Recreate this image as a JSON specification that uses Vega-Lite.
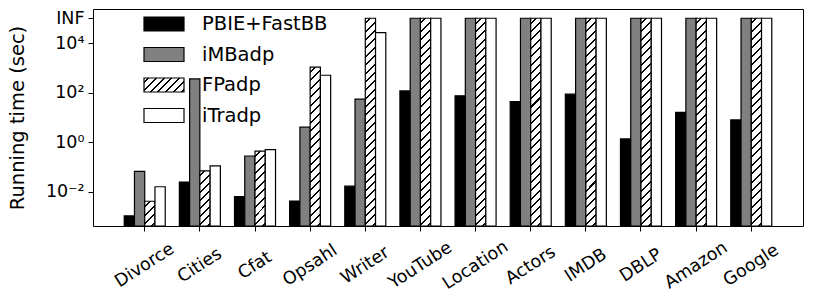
{
  "$schema": "https://vega.github.io/schema/vega-lite/v6.json",
  "autosize": {"type": "none"},
  "padding": {"left": 93, "top": 9, "right": 11, "bottom": 73},
  "width": 710,
  "height": 217,
  "background": "white",
  "config": {
    "view": {"stroke": "black", "strokeWidth": 1},
    "axis": {"labelFont": "DejaVu Sans", "titleFont": "DejaVu Sans", "labelColor": "black", "titleColor": "black", "tickColor": "black", "domain": false, "grid": false},
    "legend": {"labelFont": "DejaVu Sans"}
  },
  "data": {"values": [
    {"dataset": "Divorce", "method": "PBIE+FastBB", "time": 0.00105},
    {"dataset": "Divorce", "method": "iMBadp", "time": 0.066},
    {"dataset": "Divorce", "method": "FPadp", "time": 0.0041},
    {"dataset": "Divorce", "method": "iTradp", "time": 0.0158},
    {"dataset": "Cities", "method": "PBIE+FastBB", "time": 0.0245},
    {"dataset": "Cities", "method": "iMBadp", "time": 355},
    {"dataset": "Cities", "method": "FPadp", "time": 0.069},
    {"dataset": "Cities", "method": "iTradp", "time": 0.11},
    {"dataset": "Cfat", "method": "PBIE+FastBB", "time": 0.0063},
    {"dataset": "Cfat", "method": "iMBadp", "time": 0.275},
    {"dataset": "Cfat", "method": "FPadp", "time": 0.43},
    {"dataset": "Cfat", "method": "iTradp", "time": 0.5},
    {"dataset": "Opsahl", "method": "PBIE+FastBB", "time": 0.0042},
    {"dataset": "Opsahl", "method": "iMBadp", "time": 4.0},
    {"dataset": "Opsahl", "method": "FPadp", "time": 1070},
    {"dataset": "Opsahl", "method": "iTradp", "time": 500},
    {"dataset": "Writer", "method": "PBIE+FastBB", "time": 0.0166},
    {"dataset": "Writer", "method": "iMBadp", "time": 54},
    {"dataset": "Writer", "method": "FPadp", "time": 100000},
    {"dataset": "Writer", "method": "iTradp", "time": 26500},
    {"dataset": "YouTube", "method": "PBIE+FastBB", "time": 117},
    {"dataset": "YouTube", "method": "iMBadp", "time": 100000},
    {"dataset": "YouTube", "method": "FPadp", "time": 100000},
    {"dataset": "YouTube", "method": "iTradp", "time": 100000},
    {"dataset": "Location", "method": "PBIE+FastBB", "time": 74},
    {"dataset": "Location", "method": "iMBadp", "time": 100000},
    {"dataset": "Location", "method": "FPadp", "time": 100000},
    {"dataset": "Location", "method": "iTradp", "time": 100000},
    {"dataset": "Actors", "method": "PBIE+FastBB", "time": 43},
    {"dataset": "Actors", "method": "iMBadp", "time": 100000},
    {"dataset": "Actors", "method": "FPadp", "time": 100000},
    {"dataset": "Actors", "method": "iTradp", "time": 100000},
    {"dataset": "IMDB", "method": "PBIE+FastBB", "time": 86},
    {"dataset": "IMDB", "method": "iMBadp", "time": 100000},
    {"dataset": "IMDB", "method": "FPadp", "time": 100000},
    {"dataset": "IMDB", "method": "iTradp", "time": 100000},
    {"dataset": "DBLP", "method": "PBIE+FastBB", "time": 1.35},
    {"dataset": "DBLP", "method": "iMBadp", "time": 100000},
    {"dataset": "DBLP", "method": "FPadp", "time": 100000},
    {"dataset": "DBLP", "method": "iTradp", "time": 100000},
    {"dataset": "Amazon", "method": "PBIE+FastBB", "time": 16},
    {"dataset": "Amazon", "method": "iMBadp", "time": 100000},
    {"dataset": "Amazon", "method": "FPadp", "time": 100000},
    {"dataset": "Amazon", "method": "iTradp", "time": 100000},
    {"dataset": "Google", "method": "PBIE+FastBB", "time": 7.9},
    {"dataset": "Google", "method": "iMBadp", "time": 100000},
    {"dataset": "Google", "method": "FPadp", "time": 100000},
    {"dataset": "Google", "method": "iTradp", "time": 100000}
  ]},
  "mark": {"type": "bar", "stroke": "black", "strokeWidth": 1.2},
  "encoding": {
    "x": {
      "field": "dataset", "type": "nominal",
      "sort": ["Divorce", "Cities", "Cfat", "Opsahl", "Writer", "YouTube", "Location", "Actors", "IMDB", "DBLP", "Amazon", "Google"],
      "scale": {"paddingInner": 0.256, "paddingOuter": 0.566},
      "axis": {"title": null, "labelAngle": -33, "labelAlign": "center", "labelBaseline": "middle", "labelPadding": 34, "tickSize": 5, "labelFontSize": 17.5}
    },
    "xOffset": {
      "field": "method", "type": "nominal",
      "sort": ["PBIE+FastBB", "iMBadp", "FPadp", "iTradp"],
      "scale": {"paddingInner": 0, "paddingOuter": 0}
    },
    "y": {
      "field": "time", "type": "quantitative",
      "scale": {"type": "log", "domain": [0.000411, 236600], "nice": false},
      "axis": {
        "title": "Running time (sec)", "titleFontSize": 19.5, "titleFontWeight": "normal", "titlePadding": 18,
        "values": [0.01, 1, 100, 10000, 100000],
        "labelExpr": "datum.value > 50000 ? 'INF' : datum.value > 5000 ? '10⁴' : datum.value > 50 ? '10²' : datum.value > 0.5 ? '10⁰' : '10⁻²'",
        "labelFontSize": 17.5, "tickSize": 5, "labelPadding": 4
      }
    },
    "y2": {"datum": 0.000411},
    "fill": {
      "condition": [
        {"test": "datum.method === 'FPadp' && datum.time > 50000", "value": {"gradient": "linear", "x1": 0, "y1": 0, "x2": 0.05171, "y2": 1.0468, "stops": [
          {"offset": 0, "color": "#fff"},
          {"offset": 0.0192, "color": "#fff"}, {"offset": 0.0192, "color": "#000"}, {"offset": 0.0284, "color": "#000"}, {"offset": 0.0284, "color": "#fff"},
          {"offset": 0.0577, "color": "#fff"}, {"offset": 0.0577, "color": "#000"}, {"offset": 0.0669, "color": "#000"}, {"offset": 0.0669, "color": "#fff"},
          {"offset": 0.0962, "color": "#fff"}, {"offset": 0.0962, "color": "#000"}, {"offset": 0.1054, "color": "#000"}, {"offset": 0.1054, "color": "#fff"},
          {"offset": 0.1346, "color": "#fff"}, {"offset": 0.1346, "color": "#000"}, {"offset": 0.1438, "color": "#000"}, {"offset": 0.1438, "color": "#fff"},
          {"offset": 0.1731, "color": "#fff"}, {"offset": 0.1731, "color": "#000"}, {"offset": 0.1823, "color": "#000"}, {"offset": 0.1823, "color": "#fff"},
          {"offset": 0.2115, "color": "#fff"}, {"offset": 0.2115, "color": "#000"}, {"offset": 0.2207, "color": "#000"}, {"offset": 0.2207, "color": "#fff"},
          {"offset": 0.25, "color": "#fff"}, {"offset": 0.25, "color": "#000"}, {"offset": 0.2592, "color": "#000"}, {"offset": 0.2592, "color": "#fff"},
          {"offset": 0.2885, "color": "#fff"}, {"offset": 0.2885, "color": "#000"}, {"offset": 0.2977, "color": "#000"}, {"offset": 0.2977, "color": "#fff"},
          {"offset": 0.3269, "color": "#fff"}, {"offset": 0.3269, "color": "#000"}, {"offset": 0.3361, "color": "#000"}, {"offset": 0.3361, "color": "#fff"},
          {"offset": 0.3654, "color": "#fff"}, {"offset": 0.3654, "color": "#000"}, {"offset": 0.3746, "color": "#000"}, {"offset": 0.3746, "color": "#fff"},
          {"offset": 0.4038, "color": "#fff"}, {"offset": 0.4038, "color": "#000"}, {"offset": 0.4130, "color": "#000"}, {"offset": 0.4130, "color": "#fff"},
          {"offset": 0.4423, "color": "#fff"}, {"offset": 0.4423, "color": "#000"}, {"offset": 0.4515, "color": "#000"}, {"offset": 0.4515, "color": "#fff"},
          {"offset": 0.4808, "color": "#fff"}, {"offset": 0.4808, "color": "#000"}, {"offset": 0.49, "color": "#000"}, {"offset": 0.49, "color": "#fff"},
          {"offset": 0.5192, "color": "#fff"}, {"offset": 0.5192, "color": "#000"}, {"offset": 0.5284, "color": "#000"}, {"offset": 0.5284, "color": "#fff"},
          {"offset": 0.5577, "color": "#fff"}, {"offset": 0.5577, "color": "#000"}, {"offset": 0.5669, "color": "#000"}, {"offset": 0.5669, "color": "#fff"},
          {"offset": 0.5962, "color": "#fff"}, {"offset": 0.5962, "color": "#000"}, {"offset": 0.6054, "color": "#000"}, {"offset": 0.6054, "color": "#fff"},
          {"offset": 0.6346, "color": "#fff"}, {"offset": 0.6346, "color": "#000"}, {"offset": 0.6438, "color": "#000"}, {"offset": 0.6438, "color": "#fff"},
          {"offset": 0.6731, "color": "#fff"}, {"offset": 0.6731, "color": "#000"}, {"offset": 0.6823, "color": "#000"}, {"offset": 0.6823, "color": "#fff"},
          {"offset": 0.7115, "color": "#fff"}, {"offset": 0.7115, "color": "#000"}, {"offset": 0.7207, "color": "#000"}, {"offset": 0.7207, "color": "#fff"},
          {"offset": 0.75, "color": "#fff"}, {"offset": 0.75, "color": "#000"}, {"offset": 0.7592, "color": "#000"}, {"offset": 0.7592, "color": "#fff"},
          {"offset": 0.7885, "color": "#fff"}, {"offset": 0.7885, "color": "#000"}, {"offset": 0.7977, "color": "#000"}, {"offset": 0.7977, "color": "#fff"},
          {"offset": 0.8269, "color": "#fff"}, {"offset": 0.8269, "color": "#000"}, {"offset": 0.8361, "color": "#000"}, {"offset": 0.8361, "color": "#fff"},
          {"offset": 0.8654, "color": "#fff"}, {"offset": 0.8654, "color": "#000"}, {"offset": 0.8746, "color": "#000"}, {"offset": 0.8746, "color": "#fff"},
          {"offset": 0.9038, "color": "#fff"}, {"offset": 0.9038, "color": "#000"}, {"offset": 0.9130, "color": "#000"}, {"offset": 0.9130, "color": "#fff"},
          {"offset": 0.9423, "color": "#fff"}, {"offset": 0.9423, "color": "#000"}, {"offset": 0.9515, "color": "#000"}, {"offset": 0.9515, "color": "#fff"},
          {"offset": 0.9808, "color": "#fff"}, {"offset": 0.9808, "color": "#000"}, {"offset": 0.99, "color": "#000"}, {"offset": 0.99, "color": "#fff"},
          {"offset": 1, "color": "#fff"}
        ]}},
        {"test": "datum.method === 'FPadp' && datum.time > 100", "value": {"gradient": "linear", "x1": 0, "y1": 0, "x2": 0.06845, "y2": 1.0601, "stops": [
          {"offset": 0, "color": "#fff"},
          {"offset": 0.025, "color": "#fff"}, {"offset": 0.025, "color": "#000"}, {"offset": 0.0368, "color": "#000"}, {"offset": 0.0368, "color": "#fff"},
          {"offset": 0.075, "color": "#fff"}, {"offset": 0.075, "color": "#000"}, {"offset": 0.0868, "color": "#000"}, {"offset": 0.0868, "color": "#fff"},
          {"offset": 0.125, "color": "#fff"}, {"offset": 0.125, "color": "#000"}, {"offset": 0.1368, "color": "#000"}, {"offset": 0.1368, "color": "#fff"},
          {"offset": 0.175, "color": "#fff"}, {"offset": 0.175, "color": "#000"}, {"offset": 0.1868, "color": "#000"}, {"offset": 0.1868, "color": "#fff"},
          {"offset": 0.225, "color": "#fff"}, {"offset": 0.225, "color": "#000"}, {"offset": 0.2368, "color": "#000"}, {"offset": 0.2368, "color": "#fff"},
          {"offset": 0.275, "color": "#fff"}, {"offset": 0.275, "color": "#000"}, {"offset": 0.2868, "color": "#000"}, {"offset": 0.2868, "color": "#fff"},
          {"offset": 0.325, "color": "#fff"}, {"offset": 0.325, "color": "#000"}, {"offset": 0.3368, "color": "#000"}, {"offset": 0.3368, "color": "#fff"},
          {"offset": 0.375, "color": "#fff"}, {"offset": 0.375, "color": "#000"}, {"offset": 0.3868, "color": "#000"}, {"offset": 0.3868, "color": "#fff"},
          {"offset": 0.425, "color": "#fff"}, {"offset": 0.425, "color": "#000"}, {"offset": 0.4368, "color": "#000"}, {"offset": 0.4368, "color": "#fff"},
          {"offset": 0.475, "color": "#fff"}, {"offset": 0.475, "color": "#000"}, {"offset": 0.4868, "color": "#000"}, {"offset": 0.4868, "color": "#fff"},
          {"offset": 0.525, "color": "#fff"}, {"offset": 0.525, "color": "#000"}, {"offset": 0.5368, "color": "#000"}, {"offset": 0.5368, "color": "#fff"},
          {"offset": 0.575, "color": "#fff"}, {"offset": 0.575, "color": "#000"}, {"offset": 0.5868, "color": "#000"}, {"offset": 0.5868, "color": "#fff"},
          {"offset": 0.625, "color": "#fff"}, {"offset": 0.625, "color": "#000"}, {"offset": 0.6368, "color": "#000"}, {"offset": 0.6368, "color": "#fff"},
          {"offset": 0.675, "color": "#fff"}, {"offset": 0.675, "color": "#000"}, {"offset": 0.6868, "color": "#000"}, {"offset": 0.6868, "color": "#fff"},
          {"offset": 0.725, "color": "#fff"}, {"offset": 0.725, "color": "#000"}, {"offset": 0.7368, "color": "#000"}, {"offset": 0.7368, "color": "#fff"},
          {"offset": 0.775, "color": "#fff"}, {"offset": 0.775, "color": "#000"}, {"offset": 0.7868, "color": "#000"}, {"offset": 0.7868, "color": "#fff"},
          {"offset": 0.825, "color": "#fff"}, {"offset": 0.825, "color": "#000"}, {"offset": 0.8368, "color": "#000"}, {"offset": 0.8368, "color": "#fff"},
          {"offset": 0.875, "color": "#fff"}, {"offset": 0.875, "color": "#000"}, {"offset": 0.8868, "color": "#000"}, {"offset": 0.8868, "color": "#fff"},
          {"offset": 0.925, "color": "#fff"}, {"offset": 0.925, "color": "#000"}, {"offset": 0.9368, "color": "#000"}, {"offset": 0.9368, "color": "#fff"},
          {"offset": 0.975, "color": "#fff"}, {"offset": 0.975, "color": "#000"}, {"offset": 0.9868, "color": "#000"}, {"offset": 0.9868, "color": "#fff"},
          {"offset": 1, "color": "#fff"}
        ]}},
        {"test": "datum.method === 'FPadp' && datum.time > 0.2", "value": {"gradient": "linear", "x1": 0, "y1": 0, "x2": 0.1531, "y2": 1.1162, "stops": [
          {"offset": 0, "color": "#fff"},
          {"offset": 0.05, "color": "#fff"}, {"offset": 0.05, "color": "#000"}, {"offset": 0.0735, "color": "#000"}, {"offset": 0.0735, "color": "#fff"},
          {"offset": 0.15, "color": "#fff"}, {"offset": 0.15, "color": "#000"}, {"offset": 0.1735, "color": "#000"}, {"offset": 0.1735, "color": "#fff"},
          {"offset": 0.25, "color": "#fff"}, {"offset": 0.25, "color": "#000"}, {"offset": 0.2735, "color": "#000"}, {"offset": 0.2735, "color": "#fff"},
          {"offset": 0.35, "color": "#fff"}, {"offset": 0.35, "color": "#000"}, {"offset": 0.3735, "color": "#000"}, {"offset": 0.3735, "color": "#fff"},
          {"offset": 0.45, "color": "#fff"}, {"offset": 0.45, "color": "#000"}, {"offset": 0.4735, "color": "#000"}, {"offset": 0.4735, "color": "#fff"},
          {"offset": 0.55, "color": "#fff"}, {"offset": 0.55, "color": "#000"}, {"offset": 0.5735, "color": "#000"}, {"offset": 0.5735, "color": "#fff"},
          {"offset": 0.65, "color": "#fff"}, {"offset": 0.65, "color": "#000"}, {"offset": 0.6735, "color": "#000"}, {"offset": 0.6735, "color": "#fff"},
          {"offset": 0.75, "color": "#fff"}, {"offset": 0.75, "color": "#000"}, {"offset": 0.7735, "color": "#000"}, {"offset": 0.7735, "color": "#fff"},
          {"offset": 0.85, "color": "#fff"}, {"offset": 0.85, "color": "#000"}, {"offset": 0.8735, "color": "#000"}, {"offset": 0.8735, "color": "#fff"},
          {"offset": 0.95, "color": "#fff"}, {"offset": 0.95, "color": "#000"}, {"offset": 0.9735, "color": "#000"}, {"offset": 0.9735, "color": "#fff"},
          {"offset": 1, "color": "#fff"}
        ]}},
        {"test": "datum.method === 'FPadp' && datum.time > 0.03", "value": {"gradient": "linear", "x1": 0, "y1": 0, "x2": 0.2135, "y2": 1.1465, "stops": [
          {"offset": 0, "color": "#fff"},
          {"offset": 0.0625, "color": "#fff"}, {"offset": 0.0625, "color": "#000"}, {"offset": 0.0931, "color": "#000"}, {"offset": 0.0931, "color": "#fff"},
          {"offset": 0.1875, "color": "#fff"}, {"offset": 0.1875, "color": "#000"}, {"offset": 0.2181, "color": "#000"}, {"offset": 0.2181, "color": "#fff"},
          {"offset": 0.3125, "color": "#fff"}, {"offset": 0.3125, "color": "#000"}, {"offset": 0.3431, "color": "#000"}, {"offset": 0.3431, "color": "#fff"},
          {"offset": 0.4375, "color": "#fff"}, {"offset": 0.4375, "color": "#000"}, {"offset": 0.4681, "color": "#000"}, {"offset": 0.4681, "color": "#fff"},
          {"offset": 0.5625, "color": "#fff"}, {"offset": 0.5625, "color": "#000"}, {"offset": 0.5931, "color": "#000"}, {"offset": 0.5931, "color": "#fff"},
          {"offset": 0.6875, "color": "#fff"}, {"offset": 0.6875, "color": "#000"}, {"offset": 0.7181, "color": "#000"}, {"offset": 0.7181, "color": "#fff"},
          {"offset": 0.8125, "color": "#fff"}, {"offset": 0.8125, "color": "#000"}, {"offset": 0.8431, "color": "#000"}, {"offset": 0.8431, "color": "#fff"},
          {"offset": 0.9375, "color": "#fff"}, {"offset": 0.9375, "color": "#000"}, {"offset": 0.9681, "color": "#000"}, {"offset": 0.9681, "color": "#fff"},
          {"offset": 1, "color": "#fff"}
        ]}},
        {"test": "datum.method === 'FPadp'", "value": {"gradient": "linear", "x1": 0, "y1": 0, "x2": 0.5014, "y2": 1.2071, "stops": [
          {"offset": 0, "color": "#fff"},
          {"offset": 0.125, "color": "#fff"}, {"offset": 0.125, "color": "#000"}, {"offset": 0.1822, "color": "#000"}, {"offset": 0.1822, "color": "#fff"},
          {"offset": 0.375, "color": "#fff"}, {"offset": 0.375, "color": "#000"}, {"offset": 0.4322, "color": "#000"}, {"offset": 0.4322, "color": "#fff"},
          {"offset": 0.625, "color": "#fff"}, {"offset": 0.625, "color": "#000"}, {"offset": 0.6822, "color": "#000"}, {"offset": 0.6822, "color": "#fff"},
          {"offset": 0.875, "color": "#fff"}, {"offset": 0.875, "color": "#000"}, {"offset": 0.9322, "color": "#000"}, {"offset": 0.9322, "color": "#fff"},
          {"offset": 1, "color": "#fff"}
        ]}}
      ],
      "field": "method", "type": "nominal",
      "scale": {
        "domain": ["PBIE+FastBB", "iMBadp", "FPadp", "iTradp"],
        "range": ["black", "#808080", {"expr": "{'gradient': 'linear', 'x1': 0, 'y1': 0, 'x2': 1.2026, 'y2': 0.4209, 'stops': [{'offset': 0, 'color': '#fff'}, {'offset': 0.0714, 'color': '#fff'}, {'offset': 0.0714, 'color': '#000'}, {'offset': 0.1084, 'color': '#000'}, {'offset': 0.1084, 'color': '#fff'}, {'offset': 0.2143, 'color': '#fff'}, {'offset': 0.2143, 'color': '#000'}, {'offset': 0.2513, 'color': '#000'}, {'offset': 0.2513, 'color': '#fff'}, {'offset': 0.3571, 'color': '#fff'}, {'offset': 0.3571, 'color': '#000'}, {'offset': 0.3941, 'color': '#000'}, {'offset': 0.3941, 'color': '#fff'}, {'offset': 0.5, 'color': '#fff'}, {'offset': 0.5, 'color': '#000'}, {'offset': 0.537, 'color': '#000'}, {'offset': 0.537, 'color': '#fff'}, {'offset': 0.6429, 'color': '#fff'}, {'offset': 0.6429, 'color': '#000'}, {'offset': 0.6799, 'color': '#000'}, {'offset': 0.6799, 'color': '#fff'}, {'offset': 0.7857, 'color': '#fff'}, {'offset': 0.7857, 'color': '#000'}, {'offset': 0.8227, 'color': '#000'}, {'offset': 0.8227, 'color': '#fff'}, {'offset': 0.9286, 'color': '#fff'}, {'offset': 0.9286, 'color': '#000'}, {'offset': 0.9656, 'color': '#000'}, {'offset': 0.9656, 'color': '#fff'}, {'offset': 1, 'color': '#fff'}]}"}, "white"]
      },
      "legend": {
        "title": null, "orient": "none", "legendX": 50, "legendY": 5, "direction": "vertical", "padding": 0,
        "symbolType": "M-1,-0.35L1,-0.35L1,0.35L-1,0.35Z", "symbolSize": 1600, "clipHeight": 20,
        "symbolStrokeColor": "black", "symbolStrokeWidth": 1.2, "symbolOpacity": 1,
        "labelFontSize": 19.5, "labelOffset": 17, "labelColor": "black", "rowPadding": 10.5, "labelLimit": 300
      }
    }
  }
}
